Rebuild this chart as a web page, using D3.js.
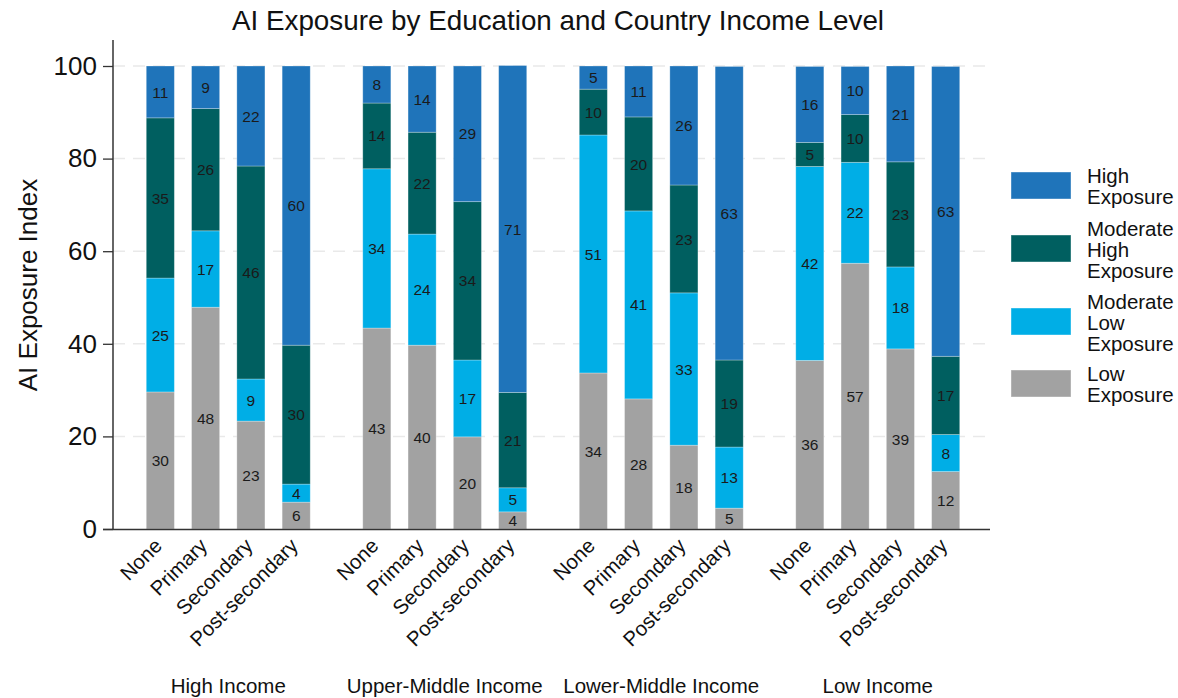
<!DOCTYPE html>
<html>
<head>
<meta charset="utf-8">
<script src="https://cdn.jsdelivr.net/npm/d3@7"></script>
<style>
  body { margin: 0; background: #fff; }
  text { font-family: "Liberation Sans", Arial, sans-serif; }
</style>
</head>
<body>
<div id="chart"></div>
<script>
(function () {
    'use strict';

    const incomeGroups = ["High Income", "Upper-Middle Income", "Lower-Middle Income", "Low Income"];
    const educationLevels = ["None", "Primary", "Secondary", "Post-secondary"];
    const seriesNames = ["Low Exposure", "Moderate Low Exposure", "Moderate High Exposure", "High Exposure"];
    const seriesColors = ["#a2a2a2", "#00aee6", "#005f60", "#1f74ba"];
    const yTicks = [0, 20, 40, 60, 80, 100];

    // values per income group, per education level, in series order (low -> high)
    const lowExposure = [
        [29.6, 47.9, 23.3, 5.8],
        [43.4, 39.7, 19.9, 3.7],
        [33.7, 28.1, 18.1, 4.5],
        [36.4, 57.4, 38.9, 12.4]
    ];
    const modLowExposure = [
        [24.6, 16.5, 9.1, 3.9],
        [34.4, 24.0, 16.6, 5.2],
        [51.4, 40.6, 32.9, 13.2],
        [41.9, 21.8, 17.7, 8.0]
    ];
    const modHighExposure = [
        [34.6, 26.4, 46.0, 30.0],
        [14.2, 22.0, 34.2, 20.6],
        [9.9, 20.3, 23.3, 18.8],
        [5.2, 10.3, 22.7, 16.9]
    ];
    const highExposure = [
        [11.2, 9.2, 21.6, 60.3],
        [8.0, 14.3, 29.3, 70.6],
        [5.0, 11.0, 25.7, 63.4],
        [16.4, 10.4, 20.7, 62.6]
    ];

    const seriesData = [lowExposure, modLowExposure, modHighExposure, highExposure];

    const width = 1178, height = 698;

    const svg = d3.select("#chart").append("svg")
        .attr("width", width)
        .attr("height", height);

    // flat rows
    const rows = [];
    incomeGroups.forEach((g, gi) => {
        educationLevels.forEach((e, ei) => {
            const row = { key: g + "|" + e, group: g, edu: e };
            seriesNames.forEach((s, si) => { row[s] = seriesData[si][gi][ei]; });
            rows.push(row);
        });
    });

    // x: outer band for groups, inner band for education
    const x0 = d3.scaleBand()
        .domain(incomeGroups)
        .range([120, 986])
        .paddingInner(0.0)
        .paddingOuter(0);

    const x1 = d3.scaleBand()
        .domain(educationLevels)
        .range([0, x0.bandwidth()])
        .paddingInner(0.38)
        .paddingOuter(0.58);

    const y = d3.scaleLinear()
        .domain([0, 100])
        .range([529, 66]);

    // gridlines
    svg.append("g")
        .selectAll("line")
        .data(yTicks.filter(d => d > 0))
        .enter().append("line")
        .attr("x1", 113).attr("x2", 990)
        .attr("y1", d => y(d)).attr("y2", d => y(d))
        .attr("stroke", "#e9e9e9")
        .attr("stroke-width", 1.5)
        .attr("stroke-dasharray", "12,8");

    const stack = d3.stack().keys(seriesNames);
    const stacked = stack(rows);

    const layers = svg.append("g").selectAll("g.layer")
        .data(stacked)
        .enter().append("g")
        .attr("class", "layer")
        .attr("fill", (d, i) => seriesColors[i]);

    layers.selectAll("rect")
        .data(d => d)
        .enter().append("rect")
        .attr("x", d => x0(d.data.group) + x1(d.data.edu))
        .attr("width", x1.bandwidth())
        .attr("y", d => y(d[1]))
        .attr("height", d => y(d[0]) - y(d[1]))
        .attr("stroke", "rgba(255,255,255,0.35)")
        .attr("stroke-width", 0.8);

    layers.each(function (layer) {
        d3.select(this).selectAll("text")
            .data(layer)
            .enter().append("text")
            .attr("x", d => x0(d.data.group) + x1(d.data.edu) + x1.bandwidth() / 2)
            .attr("y", d => (y(d[0]) + y(d[1])) / 2)
            .attr("dy", "0.36em")
            .attr("text-anchor", "middle")
            .attr("font-size", 15.5)
            .attr("fill", "#1a1a1a")
            .text(d => Math.round(d.data[layer.key]));
    });

    // y axis
    const yAxis = d3.axisLeft(y).tickValues(yTicks).tickSize(10).tickPadding(6);
    const yg = svg.append("g")
        .attr("transform", "translate(113,0)")
        .call(yAxis);
    yg.select(".domain").attr("d", "M0,40V529").attr("stroke", "#333").attr("stroke-width", 1.5);
    yg.selectAll(".tick line").attr("stroke", "#333").attr("stroke-width", 1.3);
    yg.selectAll(".tick text").attr("font-size", 26).attr("fill", "#111")
        .attr("font-family", "Liberation Sans, Arial, sans-serif");

    // x axis line
    svg.append("line")
        .attr("x1", 103).attr("x2", 990)
        .attr("y1", 529.5).attr("y2", 529.5)
        .attr("stroke", "#333").attr("stroke-width", 1.5);

    // rotated education labels
    svg.append("g").selectAll("text")
        .data(rows)
        .enter().append("text")
        .attr("transform", d => {
            const cx = x0(d.group) + x1(d.edu) + x1.bandwidth() / 2 + 3;
            return `translate(${cx},${547}) rotate(-45)`;
        })
        .attr("text-anchor", "end")
        .attr("font-size", 20.5)
        .attr("fill", "#111")
        .text(d => d.edu);

    // group labels
    svg.append("g").selectAll("text")
        .data(incomeGroups)
        .enter().append("text")
        .attr("x", d => {
            const first = x0(d) + x1(educationLevels[0]);
            const last = x0(d) + x1(educationLevels[3]) + x1.bandwidth();
            return (first + last) / 2;
        })
        .attr("y", 693)
        .attr("text-anchor", "middle")
        .attr("font-size", 20.5)
        .attr("fill", "#111")
        .text(d => d);

    // title
    svg.append("text")
        .attr("x", 558)
        .attr("y", 30)
        .attr("text-anchor", "middle")
        .attr("font-size", 27.8)
        .attr("fill", "#111")
        .text("AI Exposure by Education and Country Income Level");

    // y label
    svg.append("text")
        .attr("transform", "translate(37,285) rotate(-90)")
        .attr("text-anchor", "middle")
        .attr("font-size", 26)
        .attr("fill", "#111")
        .text("AI Exposure Index");

    // legend (top to bottom: High -> Low)
    const legendItems = [
        { name: seriesNames[3], lines: ["High", "Exposure"], color: seriesColors[3], top: 172 },
        { name: seriesNames[2], lines: ["Moderate", "High", "Exposure"], color: seriesColors[2], top: 235 },
        { name: seriesNames[1], lines: ["Moderate", "Low", "Exposure"], color: seriesColors[1], top: 308 },
        { name: seriesNames[0], lines: ["Low", "Exposure"], color: seriesColors[0], top: 370 }
    ];

    const lg = svg.append("g").selectAll("g")
        .data(legendItems)
        .enter().append("g");

    lg.append("rect")
        .attr("x", 1011).attr("y", d => d.top)
        .attr("width", 60).attr("height", 27)
        .attr("fill", d => d.color)
        .attr("stroke", "rgba(255,255,255,0.4)");

    lg.append("text")
        .attr("x", 1087)
        .attr("y", d => d.top + 14.5 - (d.lines.length - 1) * 10.5)
        .attr("font-size", 20.5)
        .attr("fill", "#111")
        .selectAll("tspan")
        .data(d => d.lines)
        .enter().append("tspan")
        .attr("x", 1087)
        .attr("dy", (d, i) => i === 0 ? "0.35em" : "21px")
        .text(d => d);
})();
</script>
</body>
</html>
